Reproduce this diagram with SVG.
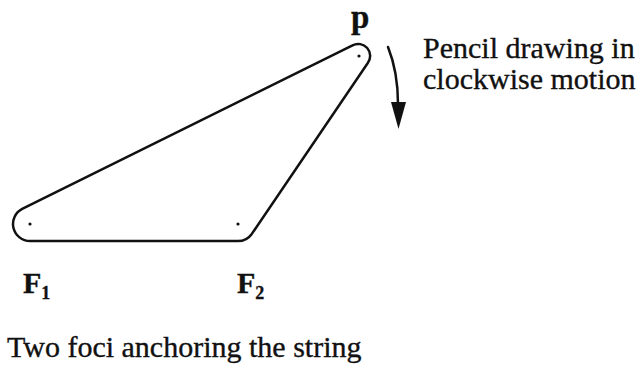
<svg xmlns="http://www.w3.org/2000/svg" width="643" height="365" viewBox="0 0 643 365">
<style>
text { font-family: "Liberation Serif", "Times New Roman", serif; fill: #111; stroke: #111; stroke-width: 0.35; }
.lbl { font-size: 30px; }
.sub { font-size: 18px; }
.bold { font-weight: bold; }
.line { fill: none; stroke: #111; stroke-width: 2.5; stroke-linecap: round; }
.dot { fill: #111; }
</style>
<rect width="643" height="365" fill="#fff"/>
<g id="string-loop">
<path class="line" d="M 30 241 L 238 241 A 17 17 0 0 0 251.8 233.9 L 367.8 63 A 12 12 0 0 0 352.5 45.3 L 22.2 208.9 A 17 17 0 0 0 30 241 Z"/>
</g>
<g id="focus-F1">
<circle class="dot" cx="30" cy="224" r="1.6"/>
<text class="lbl bold" x="23" y="293">F<tspan class="sub" dy="6">1</tspan></text>
</g>
<g id="focus-F2">
<circle class="dot" cx="238" cy="224" r="1.6"/>
<text class="lbl bold" x="237" y="293">F<tspan class="sub" dy="6">2</tspan></text>
</g>
<g id="pencil-p">
<circle class="dot" cx="359" cy="56" r="1.6"/>
<text class="bold" style="font-size:33px" x="351" y="28">p</text>
</g>
<g id="connectors">
<path class="line" d="M 388 47 Q 398 72 398 104"/>
<polygon class="dot" points="391,102 406,102 398.5,129"/>
</g>
<g id="motion-label">
<text class="lbl" x="423" y="58">Pencil drawing in</text>
<text class="lbl" x="423" y="89">clockwise motion</text>
</g>
<g id="caption">
<text class="lbl" x="7" y="357">Two foci anchoring the string</text>
</g>
</svg>
